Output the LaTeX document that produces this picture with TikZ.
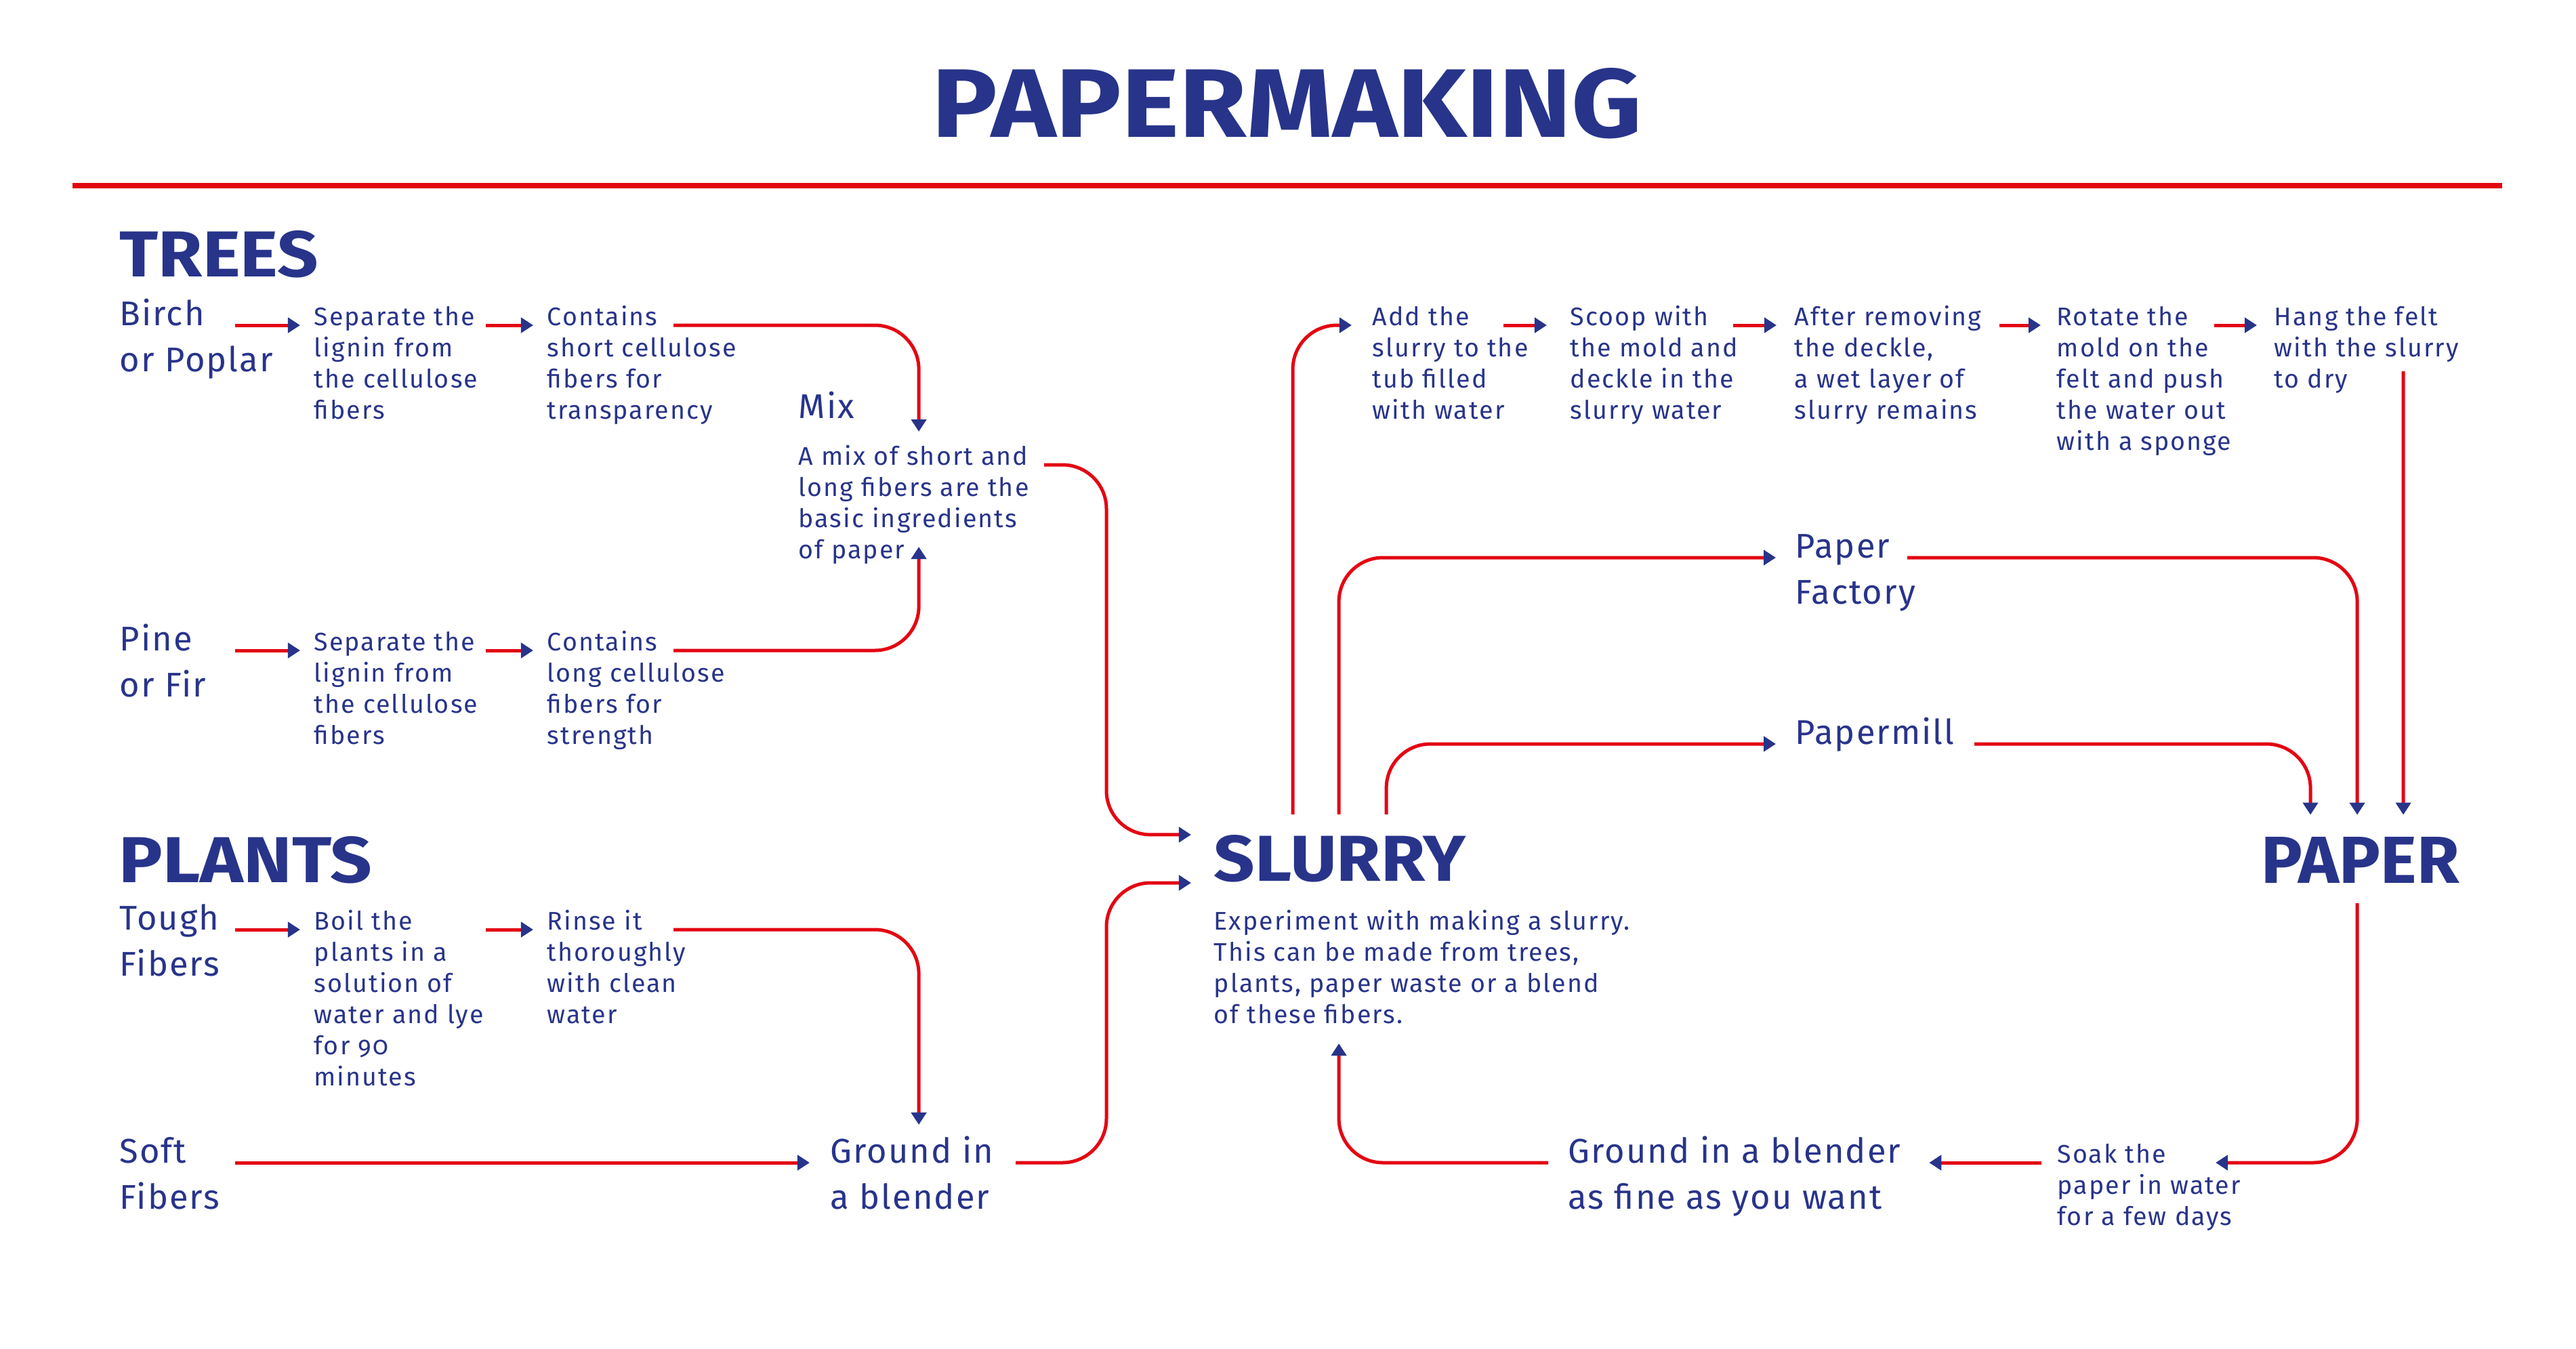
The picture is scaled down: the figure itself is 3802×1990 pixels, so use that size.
\documentclass[tikz,border=0pt]{standalone}
\usepackage{fontspec}
\setmainfont{Fira Sans}
\newfontfamily\fsmall{Fira Sans}[LetterSpace=5.5]
\newfontfamily\fmed{Fira Sans}[LetterSpace=4]
\usetikzlibrary{arrows.meta,calc}
\definecolor{pnavy}{RGB}{40,52,138}
\definecolor{pred}{RGB}{227,6,19}
\newcommand\smallt{\fsmall\fontsize{10.7pt}{13.1pt}\selectfont}
\newcommand\medt{\fmed\fontsize{14.4pt}{19.6pt}\selectfont}
\newcommand\tlines[1]{\vtop{\halign{##\hfil\cr#1\crcr}}}
\newcommand\hbig[3]{\resizebox{#1}{#2}{\bfseries #3}}
\begin{document}
\begin{tikzpicture}[x=0.01cm,y=-0.01cm,
  sm/.style={anchor=base west, inner sep=0pt, text=pnavy, font=\smallt},
  md/.style={anchor=base west, inner sep=0pt, text=pnavy, font=\medt},
  hd/.style={anchor=south west, inner sep=0pt, text=pnavy},
  conn/.style={draw=pred, line width=0.05cm, -{Triangle[length=0.18cm,width=0.22cm,color=pnavy]}},
  rc/.style={rounded corners=0.65cm}]
\useasboundingbox (0,0) rectangle (3802,1990);
\fill[white] (0,0) rectangle (3802,1990);

% title
\node[hd] (title) at (1375,206) {\hbig{10.47cm}{1.02cm}{PAPERMAKING}};
\draw[pred, line width=0.08cm] (107,274) -- (3693,274);

% trees
\node[hd] (trees) at (176,411) {\hbig{2.93cm}{0.68cm}{TREES}};
\node[md] (birch) at (176,480) {\tlines{Birch\cr or Poplar}};
\node[sm] (sep1) at (463,480) {\tlines{Separate the\cr lignin from\cr the cellulose\cr fibers}};
\node[sm] (cont1) at (807,480) {\tlines{Contains\cr short cellulose\cr fibers for\cr transparency}};
\node[md] (mix) at (1178,617) {Mix};
\node[sm] (mixt) at (1178,686) {\tlines{A mix of short and\cr long fibers are the\cr basic ingredients\cr of paper}};
\node[md] (pine) at (176,960) {\tlines{Pine\cr or Fir}};
\node[sm] (sep2) at (463,960) {\tlines{Separate the\cr lignin from\cr the cellulose\cr fibers}};
\node[sm] (cont2) at (807,960) {\tlines{Contains\cr long cellulose\cr fibers for\cr strength}};

% plants
\node[hd] (plants) at (175,1305) {\hbig{3.73cm}{0.68cm}{PLANTS}};
\node[md] (tough) at (176,1372) {\tlines{Tough\cr Fibers}};
\node[sm] (boil) at (463,1372) {\tlines{Boil the\cr plants in a\cr solution of\cr water and lye\cr for {\addfontfeature{Numbers=OldStyle}90}\cr minutes}};
\node[sm] (rinse) at (807,1372) {\tlines{Rinse it\cr thoroughly\cr with clean\cr water}};
\node[md] (soft) at (176,1716) {\tlines{Soft\cr Fibers}};
\node[md] (gr1) at (1225,1716) {\tlines{Ground in\cr a blender}};

% slurry
\node[hd] (slurry) at (1791,1303) {\hbig{3.71cm}{0.68cm}{SLURRY}};
\node[sm] (slt) at (1791,1372) {\tlines{Experiment with making a slurry.\cr This can be made from trees,\cr plants, paper waste or a blend\cr of these fibers.}};

% top row
\node[sm] (add) at (2025,480) {\tlines{Add the\cr slurry to the\cr tub filled\cr with water}};
\node[sm] (scoop) at (2317,480) {\tlines{Scoop with\cr the mold and\cr deckle in the\cr slurry water}};
\node[sm] (after) at (2648,480) {\tlines{After removing\cr the deckle,\cr a wet layer of\cr slurry remains}};
\node[sm] (rot) at (3035,480) {\tlines{Rotate the\cr mold on the\cr felt and push\cr the water out\cr with a sponge}};
\node[sm] (hang) at (3356,480) {\tlines{Hang the felt\cr with the slurry\cr to dry}};
\node[md] (fact) at (2649,823) {\tlines{Paper\cr Factory}};
\node[md] (mill) at (2649,1098) {Papermill};

% paper
\node[hd] (paper) at (3337,1304) {\hbig{2.92cm}{0.68cm}{PAPER}};
\node[md] (gr2) at (2314,1716) {\tlines{Ground in a blender\cr as fine as you want}};
\node[sm] (soak) at (3036,1716) {\tlines{Soak the\cr paper in water\cr for a few days}};

% connectors: trees
\draw[conn] ([xshift=1.71cm]birch.base west) -- ([xshift=-0.2cm]sep1.base west);
\draw[conn] ([xshift=2.54cm]sep1.base west) -- ([xshift=-0.2cm]cont1.base west);
\draw[conn,rc] ([xshift=1.87cm]cont1.base west) -| ([xshift=1.78cm,yshift=-0.2cm]mix.base west);
\draw[conn] ([xshift=1.71cm]pine.base west) -- ([xshift=-0.2cm]sep2.base west);
\draw[conn] ([xshift=2.54cm]sep2.base west) -- ([xshift=-0.2cm]cont2.base west);
\draw[conn,rc] ([xshift=1.87cm]cont2.base west) -| ([xshift=1.78cm,yshift=-1.21cm]mixt.base west);
\draw[conn,rc] ([xshift=3.63cm]mixt.base west) -| (1633,1000) |- ([xshift=-0.33cm]slurry.north west);

% connectors: plants
\draw[conn] ([xshift=1.71cm]tough.base west) -- ([xshift=-0.2cm]boil.base west);
\draw[conn] ([xshift=2.54cm]boil.base west) -- ([xshift=-0.2cm]rinse.base west);
\draw[conn,rc] ([xshift=1.87cm]rinse.base west) -| ([xshift=1.31cm,yshift=0.56cm]gr1.base west);
\draw[conn] ([xshift=1.71cm]soft.base west) -- ([xshift=-0.3cm]gr1.base west);
\draw[conn,rc] ([xshift=2.74cm]gr1.base west) -| (1633,1500) |- ([xshift=-0.33cm]slurry.south west);

% connectors: slurry upward
\draw[conn,rc] ([xshift=1.17cm,yshift=0.3cm]slurry.north west) |- ([xshift=-0.3cm]add.base west);
\draw[conn,rc] ([xshift=1.85cm,yshift=0.3cm]slurry.north west) |- ([xshift=-0.28cm]fact.base west);
\draw[conn,rc] ([xshift=2.55cm,yshift=0.3cm]slurry.north west) |- ([xshift=-0.28cm]mill.base west);

% top row
\draw[conn] ([xshift=1.94cm]add.base west) -- ([xshift=-0.34cm]scoop.base west);
\draw[conn] ([xshift=2.41cm]scoop.base west) -- ([xshift=-0.26cm]after.base west);
\draw[conn] ([xshift=3.03cm]after.base west) -- ([xshift=-0.23cm]rot.base west);
\draw[conn] ([xshift=2.33cm]rot.base west) -- ([xshift=-0.25cm]hang.base west);
\draw[conn] ([xshift=1.91cm,yshift=-0.68cm]hang.base west) -- ([xshift=2.10cm,yshift=0.32cm]paper.north west);

% into paper
\draw[conn,rc] ([xshift=1.66cm]fact.base west) -| ([xshift=1.42cm,yshift=0.32cm]paper.north west);
\draw[conn,rc] ([xshift=2.65cm]mill.base west) -| ([xshift=0.73cm,yshift=0.32cm]paper.north west);

% paper back to slurry
\draw[conn,rc] ([xshift=1.42cm,yshift=-0.29cm]paper.south west) |- ([xshift=2.34cm]soak.base west);
\draw[conn] ([xshift=-0.23cm]soak.base west) -- ([xshift=5.33cm]gr2.base west);
\draw[conn,rc] ([xshift=-0.29cm]gr2.base west) -| ([xshift=1.85cm,yshift=-1.68cm]slt.base west);
\end{tikzpicture}
\end{document}
